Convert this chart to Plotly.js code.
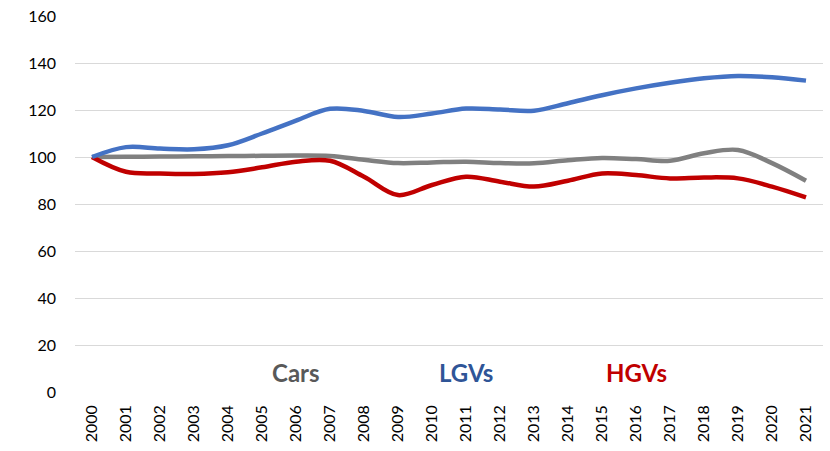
<!DOCTYPE html>
<html>
<head>
<meta charset="utf-8">
<script src="https://cdn.plot.ly/plotly-3.0.1.min.js"></script>
<style>html,body{margin:0;padding:0;background:#fff;}#chart{width:830px;height:451px;}</style>
</head>
<body>
<div id="chart"></div>
<script>
const years = ["2000","2001","2002","2003","2004","2005","2006","2007","2008","2009","2010","2011","2012","2013","2014","2015","2016","2017","2018","2019","2020","2021"];
const cars = [100,100.1,100.2,100.3,100.4,100.5,100.6,100.4,98.8,97.4,97.7,98.0,97.4,97.3,98.6,99.6,99.1,98.4,101.6,103.0,97.4,89.9];
const lgvs = [100,104.2,103.6,103.3,105.0,110.0,115.5,120.5,119.6,117.0,118.5,120.6,120.2,119.7,122.9,126.3,129.2,131.6,133.5,134.5,133.9,132.5];
const hgvs = [100,93.7,93.0,92.8,93.5,95.6,98.0,98.4,91.6,83.8,88.1,91.6,89.5,87.4,89.9,93.0,92.3,90.9,91.3,90.9,87.4,82.8];
const seriesNames = ["Cars","LGVs","HGVs"];
const lineColors = ["#808080","#4472c4","#c00000"];
const labelColors = ["#595959","#2f5597","#c00000"];
const labelX = ["2006","2011","2016"];
const labelY = [8.5,8.5,8.5];

const data = [cars, lgvs, hgvs].map((vals, i) => ({
  x: years, y: vals, type: "scatter", mode: "lines", name: seriesNames[i],
  line: {color: lineColors[i], width: 4.5, shape: "spline", smoothing: 1}
}));
const ordered = [data[0], data[2], data[1]];

const annotations = seriesNames.map((n, i) => ({
  x: years.indexOf(labelX[i]), y: labelY[i], xref: "x", yref: "y",
  text: "<b>" + n + "</b>", showarrow: false,
  font: {size: 24, color: labelColors[i], family: "Lato"}
}));

const layout = {
  width: 830, height: 451,
  margin: {l: 75, r: 7, t: 16, b: 59},
  paper_bgcolor: "#fff", plot_bgcolor: "#fff",
  showlegend: false,
  font: {family: "Lato", color: "#000", size: 16},
  xaxis: {
    type: "category", tickangle: -90, range: [-0.5, 21.5],
    showgrid: false, zeroline: false, showline: false, ticks: "",
    tickfont: {size: 16, color: "#000"}, ticklabelstandoff: 9
  },
  yaxis: {
    range: [0, 160], dtick: 20, tick0: 0,
    showgrid: true, gridcolor: "#d9d9d9", gridwidth: 1,
    zeroline: false, showline: false, ticks: "",
    tickfont: {size: 16, color: "#000"}, ticklabelstandoff: 18
  },
  annotations: annotations
};
Plotly.newPlot("chart", ordered, layout, {displayModeBar: false});
</script>
</body>
</html>
